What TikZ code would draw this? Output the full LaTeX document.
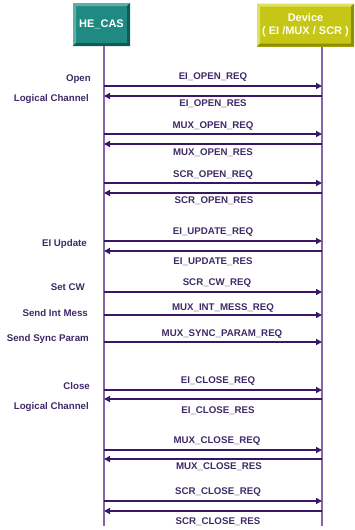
\documentclass[tikz,border=0pt]{standalone}
\usepackage{fontspec}
\setmainfont{Liberation Sans}
\usetikzlibrary{arrows.meta}
\definecolor{msgc}{HTML}{3A1664}
\definecolor{lifec}{HTML}{8466A6}
\definecolor{txtc}{HTML}{3E2A66}
\definecolor{tealm}{HTML}{1F8A82}
\definecolor{tealL}{HTML}{5AB0A8}
\definecolor{tealD}{HTML}{0E5C57}
\definecolor{yelm}{HTML}{C6C616}
\definecolor{yelL}{HTML}{E0E060}
\definecolor{yelD}{HTML}{8E8E08}
\tikzset{
  bevel/.style 2 args={path picture={
    \fill[#1] (path picture bounding box.north west) -- (path picture bounding box.north east)
      -- ([xshift=-3pt,yshift=-3pt]path picture bounding box.north east)
      -- ([xshift=3pt,yshift=-3pt]path picture bounding box.north west)
      -- ([xshift=3pt,yshift=3pt]path picture bounding box.south west)
      -- (path picture bounding box.south west) -- cycle;
    \fill[#2] (path picture bounding box.south east) -- (path picture bounding box.south west)
      -- ([xshift=3pt,yshift=3pt]path picture bounding box.south west)
      -- ([xshift=-3pt,yshift=3pt]path picture bounding box.south east)
      -- ([xshift=-3pt,yshift=-3pt]path picture bounding box.north east)
      -- (path picture bounding box.north east) -- cycle;}},
  actor/.style={minimum height=43pt, inner sep=0pt, align=center,
    font=\fontsize{11}{12.5}\selectfont\bfseries, text=white},
  lifeline/.style={draw=lifec, line width=1.5pt},
  msg/.style={draw=msgc, line width=1.8pt, -{Triangle[length=6pt,width=6pt]}},
  mlab/.style={font=\fontsize{9.7}{11}\selectfont\bfseries, text=txtc, inner sep=0pt},
  slab/.style={font=\fontsize{9.7}{11}\selectfont\bfseries, text=txtc, inner sep=0pt, anchor=east},
}
\begin{document}
\begin{tikzpicture}[x=1pt,y=-1pt]
\useasboundingbox (0,0) rectangle (355,530);
\node[actor, minimum width=57pt, fill=tealm, bevel={tealL}{tealD}] (he) at (101.5,24.5) {HE\_CAS};
\node[actor, minimum width=97pt, fill=yelm, bevel={yelL}{yelD}, text=white!95!yellow] (dev) at (305.5,25) {Device\\( EI /MUX / SCR )};
\coordinate (lt) at (104,46);
\coordinate (lb) at (104,526);
\coordinate (rt) at (322,47);
\coordinate (rb) at (322,526);
\draw[lifeline] (lt) -- (lb);
\draw[lifeline] (rt) -- (rb);
% messages: name / y / direction
\foreach \n/\y in {a/86,b/96,c/134,d/144,e/183,f/193,g/241,h/251,i/292,j/315,k/342,l/390,m/399,n/450,o/459,p/501,q/511}{
  \coordinate (L\n) at (104,\y);
  \coordinate (R\n) at (322,\y);
}
\draw[msg] (La) -- (Ra);
\draw[msg] (Rb) -- (Lb);
\draw[msg] (Lc) -- (Rc);
\draw[msg] (Rd) -- (Ld);
\draw[msg] (Le) -- (Re);
\draw[msg] (Rf) -- (Lf);
\draw[msg] (Lg) -- (Rg);
\draw[msg] (Rh) -- (Lh);
\draw[msg] (Li) -- (Ri);
\draw[msg] (Lj) -- (Rj);
\draw[msg] (Lk) -- (Rk);
\draw[msg] (Ll) -- (Rl);
\draw[msg] (Rm) -- (Lm);
\draw[msg] (Ln) -- (Rn);
\draw[msg] (Ro) -- (Lo);
\draw[msg] (Lp) -- (Rp);
\draw[msg] (Rq) -- (Lq);
% message labels
\node[mlab] (ta) at (213,77) {EI\_OPEN\_REQ};
\node[mlab] (tb) at (213,104) {EI\_OPEN\_RES};
\node[mlab] (tc) at (213,126) {MUX\_OPEN\_REQ};
\node[mlab] (td) at (213,153) {MUX\_OPEN\_RES};
\node[mlab] (te) at (213,175) {SCR\_OPEN\_REQ};
\node[mlab] (tf) at (214,201) {SCR\_OPEN\_RES};
\node[mlab] (tg) at (213,232) {EI\_UPDATE\_REQ};
\node[mlab] (th) at (213,262) {EI\_UPDATE\_RES};
\node[mlab] (ti) at (217,283) {SCR\_CW\_REQ};
\node[mlab] (tj) at (223,308) {MUX\_INT\_MESS\_REQ};
\node[mlab] (tk) at (222,334) {MUX\_SYNC\_PARAM\_REQ};
\node[mlab] (tl) at (218,381) {EI\_CLOSE\_REQ};
\node[mlab] (tm) at (218,411) {EI\_CLOSE\_RES};
\node[mlab] (tn) at (217,441) {MUX\_CLOSE\_REQ};
\node[mlab] (to) at (219,467) {MUX\_CLOSE\_RES};
\node[mlab] (tp) at (218,492) {SCR\_CLOSE\_REQ};
\node[mlab] (tq) at (218,522) {SCR\_CLOSE\_RES};
% side labels
\node[slab] (s1) at (91,79) {Open};
\node[slab] (s2) at (89,99) {Logical Channel};
\node[slab] (s3) at (87,244) {EI Update};
\node[slab] (s4) at (85,287) {Set CW};
\node[slab] (s5) at (88,313) {Send Int Mess};
\node[slab] (s6) at (89,339) {Send Sync Param};
\node[slab] (s7) at (90,386) {Close};
\node[slab] (s8) at (89,407) {Logical Channel};
\end{tikzpicture}
\end{document}
